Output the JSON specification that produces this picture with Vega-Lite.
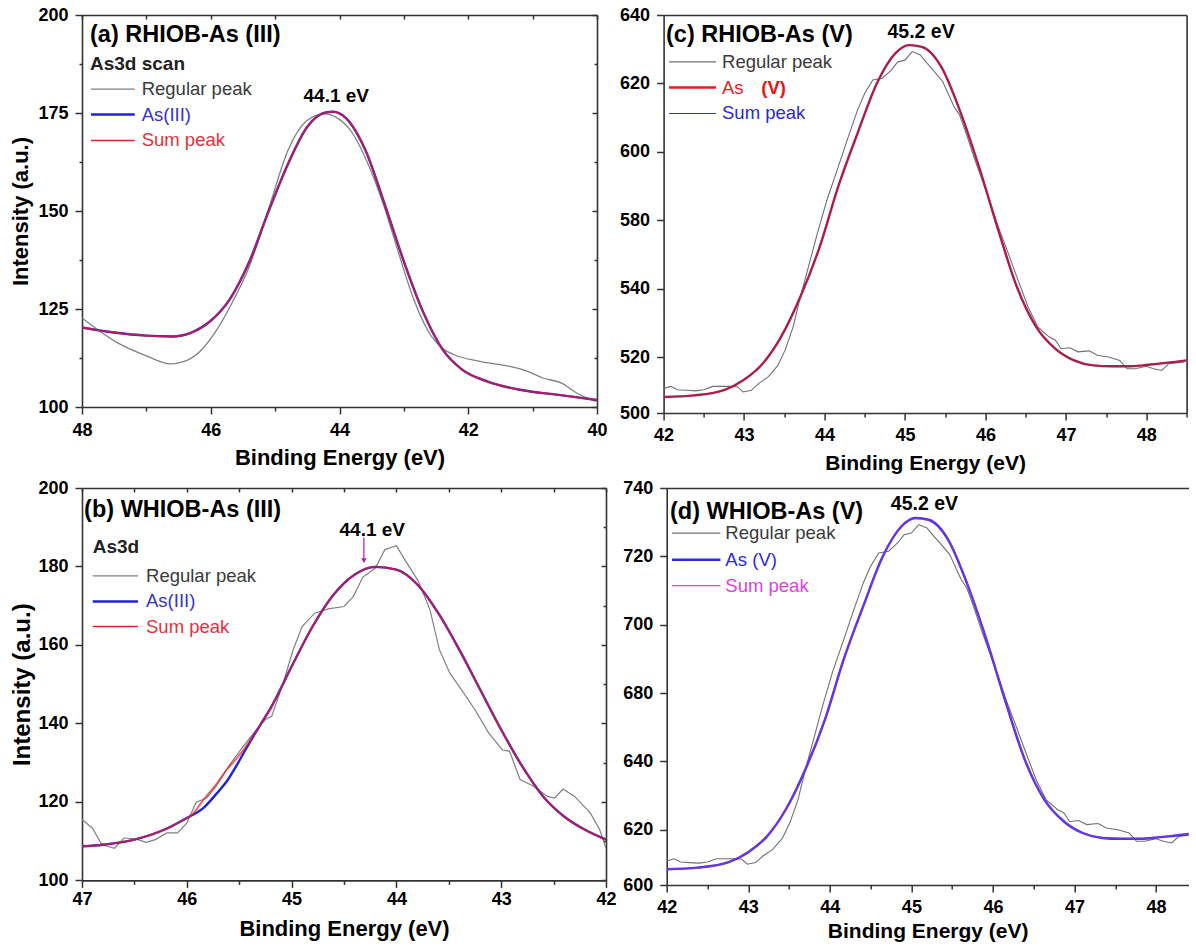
{
  "$schema": "https://vega.github.io/schema/vega-lite/v6.json",
  "background": "white",
  "padding": {"left": 9, "top": 6, "right": 0, "bottom": 8},
  "datasets": {
    "a": [
      {"energy": 48.00, "intensity": 122.7, "series": "Regular peak"},
      {"energy": 47.46, "intensity": 116.5, "series": "Regular peak"},
      {"energy": 46.99, "intensity": 113.0, "series": "Regular peak"},
      {"energy": 46.63, "intensity": 111.0, "series": "Regular peak"},
      {"energy": 46.40, "intensity": 111.7, "series": "Regular peak"},
      {"energy": 46.16, "intensity": 114.3, "series": "Regular peak"},
      {"energy": 45.93, "intensity": 119.1, "series": "Regular peak"},
      {"energy": 45.69, "intensity": 125.9, "series": "Regular peak"},
      {"energy": 45.39, "intensity": 136.3, "series": "Regular peak"},
      {"energy": 45.10, "intensity": 150.6, "series": "Regular peak"},
      {"energy": 44.80, "intensity": 165.5, "series": "Regular peak"},
      {"energy": 44.51, "intensity": 173.0, "series": "Regular peak"},
      {"energy": 44.24, "intensity": 174.8, "series": "Regular peak"},
      {"energy": 44.03, "intensity": 173.7, "series": "Regular peak"},
      {"energy": 43.80, "intensity": 169.9, "series": "Regular peak"},
      {"energy": 43.56, "intensity": 162.1, "series": "Regular peak"},
      {"energy": 43.32, "intensity": 151.8, "series": "Regular peak"},
      {"energy": 43.09, "intensity": 139.7, "series": "Regular peak"},
      {"energy": 42.85, "intensity": 127.6, "series": "Regular peak"},
      {"energy": 42.61, "intensity": 119.0, "series": "Regular peak"},
      {"energy": 42.38, "intensity": 114.7, "series": "Regular peak"},
      {"energy": 42.23, "intensity": 113.4, "series": "Regular peak"},
      {"energy": 41.84, "intensity": 111.7, "series": "Regular peak"},
      {"energy": 41.37, "intensity": 110.4, "series": "Regular peak"},
      {"energy": 41.08, "intensity": 109.1, "series": "Regular peak"},
      {"energy": 40.84, "intensity": 107.4, "series": "Regular peak"},
      {"energy": 40.55, "intensity": 106.1, "series": "Regular peak"},
      {"energy": 40.31, "intensity": 103.5, "series": "Regular peak"},
      {"energy": 40.02, "intensity": 101.4, "series": "Regular peak"},
      {"energy": 48.0, "intensity": 120.3, "series": "As(III)"},
      {"energy": 47.5, "intensity": 119.0, "series": "As(III)"},
      {"energy": 47.0, "intensity": 118.2, "series": "As(III)"},
      {"energy": 46.6, "intensity": 118.0, "series": "As(III)"},
      {"energy": 46.3, "intensity": 119.0, "series": "As(III)"},
      {"energy": 46.0, "intensity": 122.0, "series": "As(III)"},
      {"energy": 45.7, "intensity": 127.6, "series": "As(III)"},
      {"energy": 45.4, "intensity": 137.1, "series": "As(III)"},
      {"energy": 45.1, "intensity": 150.0, "series": "As(III)"},
      {"energy": 44.8, "intensity": 162.0, "series": "As(III)"},
      {"energy": 44.5, "intensity": 171.5, "series": "As(III)"},
      {"energy": 44.2, "intensity": 175.2, "series": "As(III)"},
      {"energy": 44.1, "intensity": 175.3, "series": "As(III)"},
      {"energy": 43.9, "intensity": 173.7, "series": "As(III)"},
      {"energy": 43.6, "intensity": 165.6, "series": "As(III)"},
      {"energy": 43.3, "intensity": 151.8, "series": "As(III)"},
      {"energy": 43.0, "intensity": 137.1, "series": "As(III)"},
      {"energy": 42.7, "intensity": 124.2, "series": "As(III)"},
      {"energy": 42.4, "intensity": 114.7, "series": "As(III)"},
      {"energy": 42.1, "intensity": 109.6, "series": "As(III)"},
      {"energy": 41.7, "intensity": 106.5, "series": "As(III)"},
      {"energy": 41.2, "intensity": 104.4, "series": "As(III)"},
      {"energy": 40.6, "intensity": 103.1, "series": "As(III)"},
      {"energy": 40.0, "intensity": 101.8, "series": "As(III)"},
      {"energy": 48.0, "intensity": 120.3, "series": "Sum peak"},
      {"energy": 47.5, "intensity": 119.0, "series": "Sum peak"},
      {"energy": 47.0, "intensity": 118.2, "series": "Sum peak"},
      {"energy": 46.6, "intensity": 118.0, "series": "Sum peak"},
      {"energy": 46.3, "intensity": 119.0, "series": "Sum peak"},
      {"energy": 46.0, "intensity": 122.0, "series": "Sum peak"},
      {"energy": 45.7, "intensity": 127.6, "series": "Sum peak"},
      {"energy": 45.4, "intensity": 137.1, "series": "Sum peak"},
      {"energy": 45.1, "intensity": 150.0, "series": "Sum peak"},
      {"energy": 44.8, "intensity": 162.0, "series": "Sum peak"},
      {"energy": 44.5, "intensity": 171.5, "series": "Sum peak"},
      {"energy": 44.2, "intensity": 175.2, "series": "Sum peak"},
      {"energy": 44.1, "intensity": 175.3, "series": "Sum peak"},
      {"energy": 43.9, "intensity": 173.7, "series": "Sum peak"},
      {"energy": 43.6, "intensity": 165.6, "series": "Sum peak"},
      {"energy": 43.3, "intensity": 151.8, "series": "Sum peak"},
      {"energy": 43.0, "intensity": 137.1, "series": "Sum peak"},
      {"energy": 42.7, "intensity": 124.2, "series": "Sum peak"},
      {"energy": 42.4, "intensity": 114.7, "series": "Sum peak"},
      {"energy": 42.1, "intensity": 109.6, "series": "Sum peak"},
      {"energy": 41.7, "intensity": 106.5, "series": "Sum peak"},
      {"energy": 41.2, "intensity": 104.4, "series": "Sum peak"},
      {"energy": 40.6, "intensity": 103.1, "series": "Sum peak"},
      {"energy": 40.0, "intensity": 101.8, "series": "Sum peak"}
    ],
    "b": [
      {"energy": 47.0, "intensity": 115.5, "series": "Regular peak"},
      {"energy": 46.9, "intensity": 113.3, "series": "Regular peak"},
      {"energy": 46.82, "intensity": 109.5, "series": "Regular peak"},
      {"energy": 46.76, "intensity": 108.7, "series": "Regular peak"},
      {"energy": 46.69, "intensity": 108.2, "series": "Regular peak"},
      {"energy": 46.60, "intensity": 110.8, "series": "Regular peak"},
      {"energy": 46.48, "intensity": 110.5, "series": "Regular peak"},
      {"energy": 46.39, "intensity": 109.7, "series": "Regular peak"},
      {"energy": 46.30, "intensity": 110.4, "series": "Regular peak"},
      {"energy": 46.19, "intensity": 112.1, "series": "Regular peak"},
      {"energy": 46.09, "intensity": 112.1, "series": "Regular peak"},
      {"energy": 46.0, "intensity": 114.6, "series": "Regular peak"},
      {"energy": 45.91, "intensity": 119.9, "series": "Regular peak"},
      {"energy": 45.81, "intensity": 121.0, "series": "Regular peak"},
      {"energy": 45.72, "intensity": 124.0, "series": "Regular peak"},
      {"energy": 45.59, "intensity": 129.5, "series": "Regular peak"},
      {"energy": 45.46, "intensity": 134.2, "series": "Regular peak"},
      {"energy": 45.36, "intensity": 137.6, "series": "Regular peak"},
      {"energy": 45.25, "intensity": 141.0, "series": "Regular peak"},
      {"energy": 45.19, "intensity": 141.8, "series": "Regular peak"},
      {"energy": 45.08, "intensity": 150.3, "series": "Regular peak"},
      {"energy": 44.99, "intensity": 158.4, "series": "Regular peak"},
      {"energy": 44.90, "intensity": 164.7, "series": "Regular peak"},
      {"energy": 44.78, "intensity": 168.1, "series": "Regular peak"},
      {"energy": 44.65, "intensity": 169.2, "series": "Regular peak"},
      {"energy": 44.50, "intensity": 169.8, "series": "Regular peak"},
      {"energy": 44.41, "intensity": 172.4, "series": "Regular peak"},
      {"energy": 44.32, "intensity": 177.3, "series": "Regular peak"},
      {"energy": 44.20, "intensity": 179.6, "series": "Regular peak"},
      {"energy": 44.11, "intensity": 184.3, "series": "Regular peak"},
      {"energy": 44.0, "intensity": 185.3, "series": "Regular peak"},
      {"energy": 43.91, "intensity": 181.3, "series": "Regular peak"},
      {"energy": 43.79, "intensity": 176.2, "series": "Regular peak"},
      {"energy": 43.68, "intensity": 169.0, "series": "Regular peak"},
      {"energy": 43.59, "intensity": 158.8, "series": "Regular peak"},
      {"energy": 43.49, "intensity": 152.8, "series": "Regular peak"},
      {"energy": 43.38, "intensity": 148.6, "series": "Regular peak"},
      {"energy": 43.25, "intensity": 143.5, "series": "Regular peak"},
      {"energy": 43.12, "intensity": 137.6, "series": "Regular peak"},
      {"energy": 42.99, "intensity": 133.3, "series": "Regular peak"},
      {"energy": 42.92, "intensity": 132.9, "series": "Regular peak"},
      {"energy": 42.82, "intensity": 125.7, "series": "Regular peak"},
      {"energy": 42.69, "intensity": 124.0, "series": "Regular peak"},
      {"energy": 42.56, "intensity": 121.4, "series": "Regular peak"},
      {"energy": 42.49, "intensity": 121.0, "series": "Regular peak"},
      {"energy": 42.41, "intensity": 123.3, "series": "Regular peak"},
      {"energy": 42.30, "intensity": 121.4, "series": "Regular peak"},
      {"energy": 42.15, "intensity": 117.2, "series": "Regular peak"},
      {"energy": 42.06, "intensity": 112.9, "series": "Regular peak"},
      {"energy": 42.0, "intensity": 108.2, "series": "Regular peak"},
      {"energy": 47.0, "intensity": 108.7, "series": "As(III)"},
      {"energy": 46.8, "intensity": 109.1, "series": "As(III)"},
      {"energy": 46.5, "intensity": 110.4, "series": "As(III)"},
      {"energy": 46.2, "intensity": 113.1, "series": "As(III)"},
      {"energy": 46.0, "intensity": 115.9, "series": "As(III)"},
      {"energy": 45.84, "intensity": 118.5, "series": "As(III)"},
      {"energy": 45.71, "intensity": 122.3, "series": "As(III)"},
      {"energy": 45.62, "intensity": 125.2, "series": "As(III)"},
      {"energy": 45.52, "intensity": 129.5, "series": "As(III)"},
      {"energy": 45.44, "intensity": 133.3, "series": "As(III)"},
      {"energy": 45.3, "intensity": 139.6, "series": "As(III)"},
      {"energy": 45.2, "intensity": 143.9, "series": "As(III)"},
      {"energy": 45.0, "intensity": 154.5, "series": "As(III)"},
      {"energy": 44.8, "intensity": 164.7, "series": "As(III)"},
      {"energy": 44.6, "intensity": 172.8, "series": "As(III)"},
      {"energy": 44.4, "intensity": 177.9, "series": "As(III)"},
      {"energy": 44.2, "intensity": 179.9, "series": "As(III)"},
      {"energy": 44.0, "intensity": 179.2, "series": "As(III)"},
      {"energy": 43.8, "intensity": 175.4, "series": "As(III)"},
      {"energy": 43.6, "intensity": 168.1, "series": "As(III)"},
      {"energy": 43.4, "intensity": 158.8, "series": "As(III)"},
      {"energy": 43.2, "intensity": 148.6, "series": "As(III)"},
      {"energy": 43.0, "intensity": 138.4, "series": "As(III)"},
      {"energy": 42.8, "intensity": 129.1, "series": "As(III)"},
      {"energy": 42.6, "intensity": 121.4, "series": "As(III)"},
      {"energy": 42.4, "intensity": 116.3, "series": "As(III)"},
      {"energy": 42.2, "intensity": 112.9, "series": "As(III)"},
      {"energy": 42.0, "intensity": 110.4, "series": "As(III)"},
      {"energy": 47.0, "intensity": 108.7, "series": "Sum peak"},
      {"energy": 46.8, "intensity": 109.1, "series": "Sum peak"},
      {"energy": 46.5, "intensity": 110.4, "series": "Sum peak"},
      {"energy": 46.2, "intensity": 113.1, "series": "Sum peak"},
      {"energy": 46.0, "intensity": 115.9, "series": "Sum peak"},
      {"energy": 45.96, "intensity": 116.5, "series": "Sum peak"},
      {"energy": 45.84, "intensity": 120.6, "series": "Sum peak"},
      {"energy": 45.71, "intensity": 124.8, "series": "Sum peak"},
      {"energy": 45.62, "intensity": 128.2, "series": "Sum peak"},
      {"energy": 45.52, "intensity": 131.2, "series": "Sum peak"},
      {"energy": 45.44, "intensity": 134.0, "series": "Sum peak"},
      {"energy": 45.3, "intensity": 139.6, "series": "Sum peak"},
      {"energy": 45.2, "intensity": 143.9, "series": "Sum peak"},
      {"energy": 45.0, "intensity": 154.5, "series": "Sum peak"},
      {"energy": 44.8, "intensity": 164.7, "series": "Sum peak"},
      {"energy": 44.6, "intensity": 172.8, "series": "Sum peak"},
      {"energy": 44.4, "intensity": 177.9, "series": "Sum peak"},
      {"energy": 44.2, "intensity": 179.9, "series": "Sum peak"},
      {"energy": 44.0, "intensity": 179.2, "series": "Sum peak"},
      {"energy": 43.8, "intensity": 175.4, "series": "Sum peak"},
      {"energy": 43.6, "intensity": 168.1, "series": "Sum peak"},
      {"energy": 43.4, "intensity": 158.8, "series": "Sum peak"},
      {"energy": 43.2, "intensity": 148.6, "series": "Sum peak"},
      {"energy": 43.0, "intensity": 138.4, "series": "Sum peak"},
      {"energy": 42.8, "intensity": 129.1, "series": "Sum peak"},
      {"energy": 42.6, "intensity": 121.4, "series": "Sum peak"},
      {"energy": 42.4, "intensity": 116.3, "series": "Sum peak"},
      {"energy": 42.2, "intensity": 112.9, "series": "Sum peak"},
      {"energy": 42.0, "intensity": 110.4, "series": "Sum peak"}
    ],
    "c": [
      {"energy": 42.00, "intensity": 508.7, "series": "Regular peak"},
      {"energy": 42.09, "intensity": 509.5, "series": "Regular peak"},
      {"energy": 42.17, "intensity": 508.3, "series": "Regular peak"},
      {"energy": 42.28, "intensity": 508.1, "series": "Regular peak"},
      {"energy": 42.40, "intensity": 507.9, "series": "Regular peak"},
      {"energy": 42.50, "intensity": 508.3, "series": "Regular peak"},
      {"energy": 42.61, "intensity": 509.5, "series": "Regular peak"},
      {"energy": 42.76, "intensity": 509.5, "series": "Regular peak"},
      {"energy": 42.87, "intensity": 509.5, "series": "Regular peak"},
      {"energy": 42.92, "intensity": 509.3, "series": "Regular peak"},
      {"energy": 42.99, "intensity": 507.5, "series": "Regular peak"},
      {"energy": 43.09, "intensity": 508.1, "series": "Regular peak"},
      {"energy": 43.18, "intensity": 510.5, "series": "Regular peak"},
      {"energy": 43.30, "intensity": 512.9, "series": "Regular peak"},
      {"energy": 43.42, "intensity": 517.0, "series": "Regular peak"},
      {"energy": 43.51, "intensity": 522.0, "series": "Regular peak"},
      {"energy": 43.61, "intensity": 528.8, "series": "Regular peak"},
      {"energy": 43.70, "intensity": 537.6, "series": "Regular peak"},
      {"energy": 43.80, "intensity": 552.7, "series": "Regular peak"},
      {"energy": 43.91, "intensity": 572.2, "series": "Regular peak"},
      {"energy": 44.03, "intensity": 585.9, "series": "Regular peak"},
      {"energy": 44.17, "intensity": 595.6, "series": "Regular peak"},
      {"energy": 44.31, "intensity": 605.4, "series": "Regular peak"},
      {"energy": 44.41, "intensity": 612.2, "series": "Regular peak"},
      {"energy": 44.50, "intensity": 617.1, "series": "Regular peak"},
      {"energy": 44.60, "intensity": 621.0, "series": "Regular peak"},
      {"energy": 44.72, "intensity": 621.5, "series": "Regular peak"},
      {"energy": 44.83, "intensity": 623.9, "series": "Regular peak"},
      {"energy": 44.91, "intensity": 626.3, "series": "Regular peak"},
      {"energy": 45.00, "intensity": 626.8, "series": "Regular peak"},
      {"energy": 45.09, "intensity": 629.3, "series": "Regular peak"},
      {"energy": 45.19, "intensity": 628.3, "series": "Regular peak"},
      {"energy": 45.26, "intensity": 626.3, "series": "Regular peak"},
      {"energy": 45.35, "intensity": 623.9, "series": "Regular peak"},
      {"energy": 45.47, "intensity": 620.5, "series": "Regular peak"},
      {"energy": 45.61, "intensity": 613.2, "series": "Regular peak"},
      {"energy": 45.68, "intensity": 610.7, "series": "Regular peak"},
      {"energy": 45.76, "intensity": 605.4, "series": "Regular peak"},
      {"energy": 45.87, "intensity": 597.6, "series": "Regular peak"},
      {"energy": 46.02, "intensity": 587.8, "series": "Regular peak"},
      {"energy": 46.16, "intensity": 576.1, "series": "Regular peak"},
      {"energy": 46.30, "intensity": 558.5, "series": "Regular peak"},
      {"energy": 46.39, "intensity": 546.8, "series": "Regular peak"},
      {"energy": 46.53, "intensity": 534.6, "series": "Regular peak"},
      {"energy": 46.65, "intensity": 528.8, "series": "Regular peak"},
      {"energy": 46.79, "intensity": 525.9, "series": "Regular peak"},
      {"energy": 46.87, "intensity": 524.9, "series": "Regular peak"},
      {"energy": 46.94, "intensity": 522.4, "series": "Regular peak"},
      {"energy": 47.05, "intensity": 522.7, "series": "Regular peak"},
      {"energy": 47.15, "intensity": 521.5, "series": "Regular peak"},
      {"energy": 47.29, "intensity": 521.8, "series": "Regular peak"},
      {"energy": 47.39, "intensity": 520.5, "series": "Regular peak"},
      {"energy": 47.53, "intensity": 520.0, "series": "Regular peak"},
      {"energy": 47.67, "intensity": 518.8, "series": "Regular peak"},
      {"energy": 47.76, "intensity": 515.8, "series": "Regular peak"},
      {"energy": 47.86, "intensity": 515.8, "series": "Regular peak"},
      {"energy": 48.00, "intensity": 516.7, "series": "Regular peak"},
      {"energy": 48.09, "intensity": 515.8, "series": "Regular peak"},
      {"energy": 48.19, "intensity": 515.2, "series": "Regular peak"},
      {"energy": 48.28, "intensity": 517.6, "series": "Regular peak"},
      {"energy": 48.38, "intensity": 517.9, "series": "Regular peak"},
      {"energy": 48.47, "intensity": 518.2, "series": "Regular peak"},
      {"energy": 42.00, "intensity": 505.7, "series": "As (V)"},
      {"energy": 42.38, "intensity": 506.3, "series": "As (V)"},
      {"energy": 42.76, "intensity": 508.3, "series": "As (V)"},
      {"energy": 42.99, "intensity": 511.7, "series": "As (V)"},
      {"energy": 43.23, "intensity": 517.6, "series": "As (V)"},
      {"energy": 43.46, "intensity": 525.9, "series": "As (V)"},
      {"energy": 43.70, "intensity": 537.6, "series": "As (V)"},
      {"energy": 43.94, "intensity": 564.4, "series": "As (V)"},
      {"energy": 44.17, "intensity": 589.8, "series": "As (V)"},
      {"energy": 44.41, "intensity": 605.4, "series": "As (V)"},
      {"energy": 44.65, "intensity": 620.0, "series": "As (V)"},
      {"energy": 44.88, "intensity": 628.8, "series": "As (V)"},
      {"energy": 45.05, "intensity": 631.2, "series": "As (V)"},
      {"energy": 45.21, "intensity": 630.7, "series": "As (V)"},
      {"energy": 45.45, "intensity": 624.9, "series": "As (V)"},
      {"energy": 45.68, "intensity": 612.2, "series": "As (V)"},
      {"energy": 45.92, "intensity": 595.6, "series": "As (V)"},
      {"energy": 46.16, "intensity": 574.1, "series": "As (V)"},
      {"energy": 46.39, "intensity": 541.0, "series": "As (V)"},
      {"energy": 46.63, "intensity": 528.8, "series": "As (V)"},
      {"energy": 46.87, "intensity": 522.4, "series": "As (V)"},
      {"energy": 47.10, "intensity": 518.8, "series": "As (V)"},
      {"energy": 47.34, "intensity": 517.0, "series": "As (V)"},
      {"energy": 47.57, "intensity": 516.7, "series": "As (V)"},
      {"energy": 47.81, "intensity": 516.7, "series": "As (V)"},
      {"energy": 48.05, "intensity": 517.3, "series": "As (V)"},
      {"energy": 48.50, "intensity": 518.8, "series": "As (V)"},
      {"energy": 42.00, "intensity": 505.7, "series": "Sum peak"},
      {"energy": 42.38, "intensity": 506.3, "series": "Sum peak"},
      {"energy": 42.76, "intensity": 508.3, "series": "Sum peak"},
      {"energy": 42.99, "intensity": 511.7, "series": "Sum peak"},
      {"energy": 43.23, "intensity": 517.6, "series": "Sum peak"},
      {"energy": 43.46, "intensity": 525.9, "series": "Sum peak"},
      {"energy": 43.70, "intensity": 537.6, "series": "Sum peak"},
      {"energy": 43.94, "intensity": 564.4, "series": "Sum peak"},
      {"energy": 44.17, "intensity": 589.8, "series": "Sum peak"},
      {"energy": 44.41, "intensity": 605.4, "series": "Sum peak"},
      {"energy": 44.65, "intensity": 620.0, "series": "Sum peak"},
      {"energy": 44.88, "intensity": 628.8, "series": "Sum peak"},
      {"energy": 45.05, "intensity": 631.2, "series": "Sum peak"},
      {"energy": 45.21, "intensity": 630.7, "series": "Sum peak"},
      {"energy": 45.45, "intensity": 624.9, "series": "Sum peak"},
      {"energy": 45.68, "intensity": 612.2, "series": "Sum peak"},
      {"energy": 45.92, "intensity": 595.6, "series": "Sum peak"},
      {"energy": 46.16, "intensity": 574.1, "series": "Sum peak"},
      {"energy": 46.39, "intensity": 541.0, "series": "Sum peak"},
      {"energy": 46.63, "intensity": 528.8, "series": "Sum peak"},
      {"energy": 46.87, "intensity": 522.4, "series": "Sum peak"},
      {"energy": 47.10, "intensity": 518.8, "series": "Sum peak"},
      {"energy": 47.34, "intensity": 517.0, "series": "Sum peak"},
      {"energy": 47.57, "intensity": 516.7, "series": "Sum peak"},
      {"energy": 47.81, "intensity": 516.7, "series": "Sum peak"},
      {"energy": 48.05, "intensity": 517.3, "series": "Sum peak"},
      {"energy": 48.50, "intensity": 518.8, "series": "Sum peak"}
    ],
    "d": [
      {"energy": 42.00, "intensity": 608.7, "series": "Regular peak"},
      {"energy": 42.09, "intensity": 609.5, "series": "Regular peak"},
      {"energy": 42.17, "intensity": 608.3, "series": "Regular peak"},
      {"energy": 42.28, "intensity": 608.1, "series": "Regular peak"},
      {"energy": 42.40, "intensity": 607.9, "series": "Regular peak"},
      {"energy": 42.50, "intensity": 608.3, "series": "Regular peak"},
      {"energy": 42.61, "intensity": 609.5, "series": "Regular peak"},
      {"energy": 42.76, "intensity": 609.5, "series": "Regular peak"},
      {"energy": 42.87, "intensity": 609.5, "series": "Regular peak"},
      {"energy": 42.92, "intensity": 609.3, "series": "Regular peak"},
      {"energy": 42.99, "intensity": 607.5, "series": "Regular peak"},
      {"energy": 43.09, "intensity": 608.1, "series": "Regular peak"},
      {"energy": 43.18, "intensity": 610.5, "series": "Regular peak"},
      {"energy": 43.30, "intensity": 612.9, "series": "Regular peak"},
      {"energy": 43.42, "intensity": 617.0, "series": "Regular peak"},
      {"energy": 43.51, "intensity": 622.0, "series": "Regular peak"},
      {"energy": 43.61, "intensity": 628.8, "series": "Regular peak"},
      {"energy": 43.70, "intensity": 637.6, "series": "Regular peak"},
      {"energy": 43.80, "intensity": 652.7, "series": "Regular peak"},
      {"energy": 43.91, "intensity": 672.2, "series": "Regular peak"},
      {"energy": 44.03, "intensity": 685.9, "series": "Regular peak"},
      {"energy": 44.17, "intensity": 695.6, "series": "Regular peak"},
      {"energy": 44.31, "intensity": 705.4, "series": "Regular peak"},
      {"energy": 44.41, "intensity": 712.2, "series": "Regular peak"},
      {"energy": 44.50, "intensity": 717.1, "series": "Regular peak"},
      {"energy": 44.60, "intensity": 721.0, "series": "Regular peak"},
      {"energy": 44.72, "intensity": 721.5, "series": "Regular peak"},
      {"energy": 44.83, "intensity": 723.9, "series": "Regular peak"},
      {"energy": 44.91, "intensity": 726.3, "series": "Regular peak"},
      {"energy": 45.00, "intensity": 726.8, "series": "Regular peak"},
      {"energy": 45.09, "intensity": 729.3, "series": "Regular peak"},
      {"energy": 45.19, "intensity": 728.3, "series": "Regular peak"},
      {"energy": 45.26, "intensity": 726.3, "series": "Regular peak"},
      {"energy": 45.35, "intensity": 723.9, "series": "Regular peak"},
      {"energy": 45.47, "intensity": 720.5, "series": "Regular peak"},
      {"energy": 45.61, "intensity": 713.2, "series": "Regular peak"},
      {"energy": 45.68, "intensity": 710.7, "series": "Regular peak"},
      {"energy": 45.76, "intensity": 705.4, "series": "Regular peak"},
      {"energy": 45.87, "intensity": 697.6, "series": "Regular peak"},
      {"energy": 46.02, "intensity": 687.8, "series": "Regular peak"},
      {"energy": 46.16, "intensity": 676.1, "series": "Regular peak"},
      {"energy": 46.30, "intensity": 658.5, "series": "Regular peak"},
      {"energy": 46.39, "intensity": 646.8, "series": "Regular peak"},
      {"energy": 46.53, "intensity": 634.6, "series": "Regular peak"},
      {"energy": 46.65, "intensity": 628.8, "series": "Regular peak"},
      {"energy": 46.79, "intensity": 625.9, "series": "Regular peak"},
      {"energy": 46.87, "intensity": 624.9, "series": "Regular peak"},
      {"energy": 46.94, "intensity": 622.4, "series": "Regular peak"},
      {"energy": 47.05, "intensity": 622.7, "series": "Regular peak"},
      {"energy": 47.15, "intensity": 621.5, "series": "Regular peak"},
      {"energy": 47.29, "intensity": 621.8, "series": "Regular peak"},
      {"energy": 47.39, "intensity": 620.5, "series": "Regular peak"},
      {"energy": 47.53, "intensity": 620.0, "series": "Regular peak"},
      {"energy": 47.67, "intensity": 618.8, "series": "Regular peak"},
      {"energy": 47.76, "intensity": 615.8, "series": "Regular peak"},
      {"energy": 47.86, "intensity": 615.8, "series": "Regular peak"},
      {"energy": 48.00, "intensity": 616.7, "series": "Regular peak"},
      {"energy": 48.09, "intensity": 615.8, "series": "Regular peak"},
      {"energy": 48.19, "intensity": 615.2, "series": "Regular peak"},
      {"energy": 48.28, "intensity": 617.6, "series": "Regular peak"},
      {"energy": 48.38, "intensity": 617.9, "series": "Regular peak"},
      {"energy": 48.47, "intensity": 618.2, "series": "Regular peak"},
      {"energy": 42.00, "intensity": 605.7, "series": "As (V)"},
      {"energy": 42.38, "intensity": 606.3, "series": "As (V)"},
      {"energy": 42.76, "intensity": 608.3, "series": "As (V)"},
      {"energy": 42.99, "intensity": 611.7, "series": "As (V)"},
      {"energy": 43.23, "intensity": 617.6, "series": "As (V)"},
      {"energy": 43.46, "intensity": 625.9, "series": "As (V)"},
      {"energy": 43.70, "intensity": 637.6, "series": "As (V)"},
      {"energy": 43.94, "intensity": 664.4, "series": "As (V)"},
      {"energy": 44.17, "intensity": 689.8, "series": "As (V)"},
      {"energy": 44.41, "intensity": 705.4, "series": "As (V)"},
      {"energy": 44.65, "intensity": 720.0, "series": "As (V)"},
      {"energy": 44.88, "intensity": 728.8, "series": "As (V)"},
      {"energy": 45.05, "intensity": 731.2, "series": "As (V)"},
      {"energy": 45.21, "intensity": 730.7, "series": "As (V)"},
      {"energy": 45.45, "intensity": 724.9, "series": "As (V)"},
      {"energy": 45.68, "intensity": 712.2, "series": "As (V)"},
      {"energy": 45.92, "intensity": 695.6, "series": "As (V)"},
      {"energy": 46.16, "intensity": 674.1, "series": "As (V)"},
      {"energy": 46.39, "intensity": 641.0, "series": "As (V)"},
      {"energy": 46.63, "intensity": 628.8, "series": "As (V)"},
      {"energy": 46.87, "intensity": 622.4, "series": "As (V)"},
      {"energy": 47.10, "intensity": 618.8, "series": "As (V)"},
      {"energy": 47.34, "intensity": 617.0, "series": "As (V)"},
      {"energy": 47.57, "intensity": 616.7, "series": "As (V)"},
      {"energy": 47.81, "intensity": 616.7, "series": "As (V)"},
      {"energy": 48.05, "intensity": 617.3, "series": "As (V)"},
      {"energy": 48.50, "intensity": 618.8, "series": "As (V)"},
      {"energy": 42.00, "intensity": 605.7, "series": "Sum peak"},
      {"energy": 42.38, "intensity": 606.3, "series": "Sum peak"},
      {"energy": 42.76, "intensity": 608.3, "series": "Sum peak"},
      {"energy": 42.99, "intensity": 611.7, "series": "Sum peak"},
      {"energy": 43.23, "intensity": 617.6, "series": "Sum peak"},
      {"energy": 43.46, "intensity": 625.9, "series": "Sum peak"},
      {"energy": 43.70, "intensity": 637.6, "series": "Sum peak"},
      {"energy": 43.94, "intensity": 664.4, "series": "Sum peak"},
      {"energy": 44.17, "intensity": 689.8, "series": "Sum peak"},
      {"energy": 44.41, "intensity": 705.4, "series": "Sum peak"},
      {"energy": 44.65, "intensity": 720.0, "series": "Sum peak"},
      {"energy": 44.88, "intensity": 728.8, "series": "Sum peak"},
      {"energy": 45.05, "intensity": 731.2, "series": "Sum peak"},
      {"energy": 45.21, "intensity": 730.7, "series": "Sum peak"},
      {"energy": 45.45, "intensity": 724.9, "series": "Sum peak"},
      {"energy": 45.68, "intensity": 712.2, "series": "Sum peak"},
      {"energy": 45.92, "intensity": 695.6, "series": "Sum peak"},
      {"energy": 46.16, "intensity": 674.1, "series": "Sum peak"},
      {"energy": 46.39, "intensity": 641.0, "series": "Sum peak"},
      {"energy": 46.63, "intensity": 628.8, "series": "Sum peak"},
      {"energy": 46.87, "intensity": 622.4, "series": "Sum peak"},
      {"energy": 47.10, "intensity": 618.8, "series": "Sum peak"},
      {"energy": 47.34, "intensity": 617.0, "series": "Sum peak"},
      {"energy": 47.57, "intensity": 616.7, "series": "Sum peak"},
      {"energy": 47.81, "intensity": 616.7, "series": "Sum peak"},
      {"energy": 48.05, "intensity": 617.3, "series": "Sum peak"},
      {"energy": 48.50, "intensity": 618.8, "series": "Sum peak"}
    ]
  },
  "spacing": 5,
  "bounds": "full",
  "resolve": {"scale": {"color": "independent"}},
  "vconcat": [
    {
      "spacing": 66.6,
      "bounds": "flush",
      "resolve": {"scale": {"color": "independent"}},
      "hconcat": [
        {
          "width": 515,
          "height": 392,
          "resolve": {"axis": {"x": "independent", "y": "independent"}},
          "layer": [
            {
              "layer": [
                {
                  "data": {"name": "a"},
                  "transform": [{"filter": "datum.series === 'Regular peak'"}],
                  "mark": {"type": "line", "strokeWidth": 1.3, "interpolate": "monotone", "clip": true},
                  "encoding": {
                    "x": {"field": "energy", "type": "quantitative",
                      "scale": {"domain": [40, 48], "reverse": true, "nice": false, "zero": false},
                      "axis": {"title": "Binding Energy (eV)", "format": ".0f", "values": [40, 41, 42, 43, 44, 45, 46, 47, 48],
                        "labelExpr": "datum.value % 2 === 0 ? datum.label : ''",
                        "tickSize": {"condition": {"test": "datum.value % 2 === 0", "value": 7}, "value": 4},
                        "labelPadding": 7.5, "titlePadding": 8, "titleFontSize": 22}},
                    "y": {"field": "intensity", "type": "quantitative",
                      "scale": {"domain": [100, 200], "nice": false, "zero": false},
                      "axis": {"title": "Intensity (a.u.)", "format": ".0f", "values": [100, 112.5, 125, 137.5, 150, 162.5, 175, 187.5, 200],
                        "labelExpr": "datum.value % 25 === 0 ? datum.label : ''",
                        "tickSize": {"condition": {"test": "datum.value % 25 === 0", "value": 7}, "value": 3},
                        "labelPadding": 7, "titlePadding": 5, "titleFontSize": 22}},
                    "color": {"field": "series", "type": "nominal",
                      "scale": {"domain": ["Regular peak", "As(III)", "Sum peak"], "range": ["#808080", "#2020e0", "#e8202c"]},
                      "legend": null}
                  }
                },
                {
                  "data": {"name": "a"},
                  "transform": [{"filter": "datum.series === 'As(III)'"}],
                  "mark": {"type": "line", "strokeWidth": 2.4, "interpolate": "monotone", "clip": true},
                  "encoding": {
                    "x": {"field": "energy", "type": "quantitative"},
                    "y": {"field": "intensity", "type": "quantitative"},
                    "color": {"field": "series", "type": "nominal", "legend": null}
                  }
                },
                {
                  "data": {"name": "a"},
                  "transform": [{"filter": "datum.series === 'Sum peak'"}],
                  "mark": {"type": "line", "strokeWidth": 2.0, "opacity": 0.7, "interpolate": "monotone", "clip": true},
                  "encoding": {
                    "x": {"field": "energy", "type": "quantitative"},
                    "y": {"field": "intensity", "type": "quantitative"},
                    "color": {"field": "series", "type": "nominal", "legend": null}
                  }
                },
                {
                  "data": {"values": [{"t": "(a) RHIOB-As (III)"}]},
                  "mark": {"type": "text", "align": "left", "baseline": "middle", "fontSize": 23.5, "fontWeight": "bold", "color": "#000000"},
                  "encoding": {"x": {"datum": 47.876}, "y": {"datum": 194.8}, "text": {"field": "t"}}
                },
                {
                  "data": {"values": [{"t": "44.1 eV"}]},
                  "mark": {"type": "text", "align": "center", "baseline": "middle", "fontSize": 19, "fontWeight": "bold", "color": "#000000"},
                  "encoding": {"x": {"datum": 44.05}, "y": {"datum": 179.3}, "text": {"field": "t"}}
                },
                {
                  "data": {"values": [{"t": "As3d scan"}]},
                  "mark": {"type": "text", "align": "left", "baseline": "middle", "fontSize": 19, "fontWeight": "bold", "color": "#222222"},
                  "encoding": {"x": {"datum": 47.876}, "y": {"datum": 187.6}, "text": {"field": "t"}}
                },
                {
                  "data": {"values": [{"t": "Regular peak"}]},
                  "mark": {"type": "rule", "color": "#808080", "strokeWidth": 1.4},
                  "encoding": {"x": {"datum": 47.861}, "x2": {"datum": 47.181}, "y": {"datum": 181.1}}
                },
                {
                  "data": {"values": [{"t": "Regular peak"}]},
                  "mark": {"type": "text", "align": "left", "baseline": "middle", "fontSize": 18.5, "color": "#3a3a3a"},
                  "encoding": {"x": {"datum": 47.073}, "y": {"datum": 181.1}, "text": {"field": "t"}}
                },
                {
                  "data": {"values": [{"t": "As(III)"}]},
                  "mark": {"type": "rule", "color": "#2020e0", "strokeWidth": 2.5},
                  "encoding": {"x": {"datum": 47.861}, "x2": {"datum": 47.181}, "y": {"datum": 174.6}}
                },
                {
                  "data": {"values": [{"t": "As(III)"}]},
                  "mark": {"type": "text", "align": "left", "baseline": "middle", "fontSize": 18.5, "color": "#3333cc"},
                  "encoding": {"x": {"datum": 47.073}, "y": {"datum": 174.6}, "text": {"field": "t"}}
                },
                {
                  "data": {"values": [{"t": "Sum peak"}]},
                  "mark": {"type": "rule", "color": "#e8202c", "strokeWidth": 1.4},
                  "encoding": {"x": {"datum": 47.861}, "x2": {"datum": 47.181}, "y": {"datum": 168.0}}
                },
                {
                  "data": {"values": [{"t": "Sum peak"}]},
                  "mark": {"type": "text", "align": "left", "baseline": "middle", "fontSize": 18.5, "color": "#e8303a"},
                  "encoding": {"x": {"datum": 47.073}, "y": {"datum": 168.0}, "text": {"field": "t"}}
                }
              ]
            },
            {
              "data": {"name": "a"},
              "mark": {"type": "point", "opacity": 0, "clip": true},
              "encoding": {
                "x": {"field": "energy", "type": "quantitative",
                  "axis": {"orient": "top", "title": null, "labels": false, "values": [40, 41, 42, 43, 44, 45, 46, 47, 48], "tickSize": -4}},
                "y": {"field": "intensity", "type": "quantitative",
                  "axis": {"orient": "right", "title": null, "labels": false, "values": [100, 112.5, 125, 137.5, 150, 162.5, 175, 187.5, 200],
                    "tickSize": {"condition": {"test": "datum.value % 25 === 0", "value": -5}, "value": -3}}}
              }
            }
          ]
        },
        {
          "width": 523,
          "height": 398,
          "resolve": {"axis": {"x": "independent", "y": "independent"}},
          "layer": [
            {
              "layer": [
                {
                  "data": {"name": "c"},
                  "transform": [{"filter": "datum.series === 'Regular peak'"}],
                  "mark": {"type": "line", "strokeWidth": 1.1, "clip": true},
                  "encoding": {
                    "x": {"field": "energy", "type": "quantitative",
                      "scale": {"domain": [42, 48.5], "nice": false, "zero": false},
                      "axis": {"title": "Binding Energy (eV)", "format": ".0f", "values": [42, 42.5, 43, 43.5, 44, 44.5, 45, 45.5, 46, 46.5, 47, 47.5, 48, 48.5],
                        "labelExpr": "datum.value % 1 === 0 ? datum.label : ''",
                        "tickSize": {"condition": {"test": "datum.value % 1 === 0", "value": 7}, "value": 4},
                        "labelPadding": 6.5, "titlePadding": 8, "titleFontSize": 21}},
                    "y": {"field": "intensity", "type": "quantitative",
                      "scale": {"domain": [500, 520, 540, 580, 600, 620, 640], "range": [398, 342, 273.5, 205.2, 136.8, 68.4, 0], "nice": false, "zero": false},
                      "axis": {"title": null, "format": ".0f", "values": [500, 507.5, 520, 530, 540, 560, 580, 590, 600, 610, 620, 630, 640],
                        "labelExpr": "indexof([500, 520, 540, 580, 600, 620, 640], datum.value) >= 0 ? datum.label : ''",
                        "tickSize": {"condition": {"test": "indexof([500, 520, 540, 580, 600, 620, 640], datum.value) >= 0", "value": 7}, "value": 3},
                        "labelPadding": 7}},
                    "color": {"field": "series", "type": "nominal",
                      "scale": {"domain": ["Regular peak", "As (V)", "Sum peak"], "range": ["#707070", "#e02020", "#2020d0"]},
                      "legend": null}
                  }
                },
                {
                  "data": {"name": "c"},
                  "transform": [{"filter": "datum.series === 'As (V)'"}],
                  "mark": {"type": "line", "strokeWidth": 2.4, "interpolate": "monotone", "clip": true},
                  "encoding": {
                    "x": {"field": "energy", "type": "quantitative"},
                    "y": {"field": "intensity", "type": "quantitative"},
                    "color": {"field": "series", "type": "nominal", "legend": null}
                  }
                },
                {
                  "data": {"name": "c"},
                  "transform": [{"filter": "datum.series === 'Sum peak'"}],
                  "mark": {"type": "line", "strokeWidth": 1.8, "opacity": 0.35, "interpolate": "monotone", "clip": true},
                  "encoding": {
                    "x": {"field": "energy", "type": "quantitative"},
                    "y": {"field": "intensity", "type": "quantitative"},
                    "color": {"field": "series", "type": "nominal", "legend": null}
                  }
                },
                {
                  "data": {"values": [{"t": "(c) RHIOB-As (V)"}]},
                  "mark": {"type": "text", "align": "left", "baseline": "middle", "fontSize": 23.5, "fontWeight": "bold", "color": "#000000"},
                  "encoding": {"x": {"datum": 42.03}, "y": {"datum": 634.1}, "text": {"field": "t"}}
                },
                {
                  "data": {"values": [{"t": "45.2 eV"}]},
                  "mark": {"type": "text", "align": "center", "baseline": "middle", "fontSize": 19.5, "fontWeight": "bold", "color": "#000000"},
                  "encoding": {"x": {"datum": 45.2}, "y": {"datum": 635.0}, "text": {"field": "t"}}
                },
                {
                  "data": {"values": [{"t": "Regular peak"}]},
                  "mark": {"type": "rule", "color": "#707070", "strokeWidth": 1.2},
                  "encoding": {"x": {"datum": 42.067}, "x2": {"datum": 42.652}, "y": {"datum": 626.3}}
                },
                {
                  "data": {"values": [{"t": "Regular peak"}]},
                  "mark": {"type": "text", "align": "left", "baseline": "middle", "fontSize": 18.5, "color": "#3a3a3a"},
                  "encoding": {"x": {"datum": 42.726}, "y": {"datum": 626.3}, "text": {"field": "t"}}
                },
                {
                  "data": {"values": [{"t": "As (V)"}]},
                  "mark": {"type": "rule", "color": "#e02020", "strokeWidth": 2.5},
                  "encoding": {"x": {"datum": 42.067}, "x2": {"datum": 42.652}, "y": {"datum": 618.8}}
                },
                {
                  "data": {"values": [{"t": "As"}]},
                  "mark": {"type": "text", "align": "left", "baseline": "middle", "fontSize": 18.5, "color": "#e82020"},
                  "encoding": {"x": {"datum": 42.726}, "y": {"datum": 618.8}, "text": {"field": "t"}}
                },
                {
                  "data": {"values": [{"t": "(V)"}]},
                  "mark": {"type": "text", "align": "left", "baseline": "middle", "fontSize": 18.5, "fontWeight": "bold", "color": "#f01010"},
                  "encoding": {"x": {"datum": 43.214}, "y": {"datum": 618.8}, "text": {"field": "t"}}
                },
                {
                  "data": {"values": [{"t": "Sum peak"}]},
                  "mark": {"type": "rule", "color": "#3030d8", "strokeWidth": 1.1},
                  "encoding": {"x": {"datum": 42.067}, "x2": {"datum": 42.652}, "y": {"datum": 611.2}}
                },
                {
                  "data": {"values": [{"t": "Sum peak"}]},
                  "mark": {"type": "text", "align": "left", "baseline": "middle", "fontSize": 18.5, "color": "#2a2ad0"},
                  "encoding": {"x": {"datum": 42.726}, "y": {"datum": 611.2}, "text": {"field": "t"}}
                }
              ]
            },
            {
              "data": {"name": "c"},
              "mark": {"type": "point", "opacity": 0, "clip": true},
              "encoding": {
                "x": {"field": "energy", "type": "quantitative",
                  "axis": {"orient": "top", "title": null, "labels": false, "ticks": false}},
                "y": {"field": "intensity", "type": "quantitative",
                  "axis": {"orient": "right", "title": null, "labels": false, "ticks": false}}
              }
            }
          ]
        }
      ]
    },
    {
      "spacing": 60.7,
      "bounds": "flush",
      "resolve": {"scale": {"color": "independent"}},
      "hconcat": [
        {
          "width": 524,
          "height": 392.4,
          "resolve": {"axis": {"x": "independent", "y": "independent"}},
          "layer": [
            {
              "layer": [
                {
                  "data": {"name": "b"},
                  "transform": [{"filter": "datum.series === 'Regular peak'"}],
                  "mark": {"type": "line", "strokeWidth": 1.2, "clip": true},
                  "encoding": {
                    "x": {"field": "energy", "type": "quantitative",
                      "scale": {"domain": [42, 47], "reverse": true, "nice": false, "zero": false},
                      "axis": {"title": "Binding Energy (eV)", "format": ".0f", "values": [42, 42.5, 43, 43.5, 44, 44.5, 45, 45.5, 46, 46.5, 47],
                        "labelExpr": "datum.value % 1 === 0 ? datum.label : ''",
                        "tickSize": {"condition": {"test": "datum.value % 1 === 0", "value": 7}, "value": 4},
                        "labelPadding": 3.5, "titlePadding": 10, "titleFontSize": 22}},
                    "y": {"field": "intensity", "type": "quantitative",
                      "scale": {"domain": [100, 200], "nice": false, "zero": false},
                      "axis": {"title": "Intensity (a.u.)", "format": ".0f", "values": [100, 110, 120, 130, 140, 150, 160, 170, 180, 190, 200],
                        "labelExpr": "datum.value % 20 === 0 ? datum.label : ''",
                        "tickSize": {"condition": {"test": "datum.value % 20 === 0", "value": 7}, "value": 3},
                        "labelPadding": 7, "titlePadding": 3, "titleFontSize": 24}},
                    "color": {"field": "series", "type": "nominal",
                      "scale": {"domain": ["Regular peak", "As(III)", "Sum peak"], "range": ["#808080", "#2020e0", "#e8202c"]},
                      "legend": null}
                  }
                },
                {
                  "data": {"name": "b"},
                  "transform": [{"filter": "datum.series === 'As(III)'"}],
                  "mark": {"type": "line", "strokeWidth": 2.4, "interpolate": "monotone", "clip": true},
                  "encoding": {
                    "x": {"field": "energy", "type": "quantitative"},
                    "y": {"field": "intensity", "type": "quantitative"},
                    "color": {"field": "series", "type": "nominal", "legend": null}
                  }
                },
                {
                  "data": {"name": "b"},
                  "transform": [{"filter": "datum.series === 'Sum peak'"}],
                  "mark": {"type": "line", "strokeWidth": 2.0, "opacity": 0.7, "interpolate": "monotone", "clip": true},
                  "encoding": {
                    "x": {"field": "energy", "type": "quantitative"},
                    "y": {"field": "intensity", "type": "quantitative"},
                    "color": {"field": "series", "type": "nominal", "legend": null}
                  }
                },
                {
                  "data": {"values": [{"t": "(b) WHIOB-As (III)"}]},
                  "mark": {"type": "text", "align": "left", "baseline": "middle", "fontSize": 23.5, "fontWeight": "bold", "color": "#000000"},
                  "encoding": {"x": {"datum": 46.98}, "y": {"datum": 194.5}, "text": {"field": "t"}}
                },
                {
                  "data": {"values": [{"t": "44.1 eV"}]},
                  "mark": {"type": "text", "align": "center", "baseline": "middle", "fontSize": 19, "fontWeight": "bold", "color": "#000000"},
                  "encoding": {"x": {"datum": 44.23}, "y": {"datum": 189.4}, "text": {"field": "t"}}
                },
                {
                  "data": {"values": [{"t": "arrow"}]},
                  "mark": {"type": "rule", "color": "#b01cb0", "strokeWidth": 1.2},
                  "encoding": {"x": {"datum": 44.31}, "y": {"datum": 187.3}, "y2": {"datum": 182.0}}
                },
                {
                  "data": {"values": [{"t": "arrowhead"}]},
                  "mark": {"type": "point", "shape": "triangle-down", "filled": true, "size": 30, "color": "#b01cb0", "opacity": 1},
                  "encoding": {"x": {"datum": 44.31}, "y": {"datum": 181.5}}
                },
                {
                  "data": {"values": [{"t": "As3d"}]},
                  "mark": {"type": "text", "align": "left", "baseline": "middle", "fontSize": 19, "fontWeight": "bold", "color": "#222222"},
                  "encoding": {"x": {"datum": 46.898}, "y": {"datum": 185.0}, "text": {"field": "t"}}
                },
                {
                  "data": {"values": [{"t": "Regular peak"}]},
                  "mark": {"type": "rule", "color": "#808080", "strokeWidth": 1.4},
                  "encoding": {"x": {"datum": 46.898}, "x2": {"datum": 46.466}, "y": {"datum": 177.6}}
                },
                {
                  "data": {"values": [{"t": "Regular peak"}]},
                  "mark": {"type": "text", "align": "left", "baseline": "middle", "fontSize": 18.5, "color": "#3a3a3a"},
                  "encoding": {"x": {"datum": 46.389}, "y": {"datum": 177.6}, "text": {"field": "t"}}
                },
                {
                  "data": {"values": [{"t": "As(III)"}]},
                  "mark": {"type": "rule", "color": "#2020e0", "strokeWidth": 2.5},
                  "encoding": {"x": {"datum": 46.898}, "x2": {"datum": 46.466}, "y": {"datum": 171.1}}
                },
                {
                  "data": {"values": [{"t": "As(III)"}]},
                  "mark": {"type": "text", "align": "left", "baseline": "middle", "fontSize": 18.5, "color": "#3333cc"},
                  "encoding": {"x": {"datum": 46.389}, "y": {"datum": 171.1}, "text": {"field": "t"}}
                },
                {
                  "data": {"values": [{"t": "Sum peak"}]},
                  "mark": {"type": "rule", "color": "#e8202c", "strokeWidth": 1.4},
                  "encoding": {"x": {"datum": 46.898}, "x2": {"datum": 46.466}, "y": {"datum": 164.7}}
                },
                {
                  "data": {"values": [{"t": "Sum peak"}]},
                  "mark": {"type": "text", "align": "left", "baseline": "middle", "fontSize": 18.5, "color": "#e8303a"},
                  "encoding": {"x": {"datum": 46.389}, "y": {"datum": 164.7}, "text": {"field": "t"}}
                }
              ]
            },
            {
              "data": {"name": "b"},
              "mark": {"type": "point", "opacity": 0, "clip": true},
              "encoding": {
                "x": {"field": "energy", "type": "quantitative",
                  "axis": {"orient": "top", "title": null, "labels": false, "values": [42, 42.5, 43, 43.5, 44, 44.5, 45, 45.5, 46, 46.5, 47], "tickSize": -4}},
                "y": {"field": "intensity", "type": "quantitative",
                  "axis": {"orient": "right", "title": null, "labels": false, "values": [100, 110, 120, 130, 140, 150, 160, 170, 180, 190, 200],
                    "tickSize": {"condition": {"test": "datum.value % 20 === 0", "value": -5}, "value": -3}}}
              }
            }
          ]
        },
        {
          "width": 522,
          "height": 397,
          "resolve": {"axis": {"x": "independent", "y": "independent"}},
          "layer": [
            {
              "layer": [
                {
                  "data": {"name": "d"},
                  "transform": [{"filter": "datum.series === 'Regular peak'"}],
                  "mark": {"type": "line", "strokeWidth": 1.1, "clip": true},
                  "encoding": {
                    "x": {"field": "energy", "type": "quantitative",
                      "scale": {"domain": [42, 48.4], "nice": false, "zero": false},
                      "axis": {"title": "Binding Energy (eV)", "format": ".0f", "values": [42, 42.5, 43, 43.5, 44, 44.5, 45, 45.5, 46, 46.5, 47, 47.5, 48],
                        "labelExpr": "datum.value % 1 === 0 ? datum.label : ''",
                        "tickSize": {"condition": {"test": "datum.value % 1 === 0", "value": 7}, "value": 4},
                        "labelPadding": 6.5, "titlePadding": 4, "titleFontSize": 21}},
                    "y": {"field": "intensity", "type": "quantitative",
                      "scale": {"domain": [600, 620, 640, 680, 700, 720, 740], "range": [397, 341.7, 273.3, 205, 136.6, 68.3, 0], "nice": false, "zero": false},
                      "axis": {"title": null, "format": ".0f", "values": [600, 607.5, 620, 630, 640, 660, 680, 690, 700, 710, 720, 730, 740],
                        "labelExpr": "indexof([600, 620, 640, 680, 700, 720, 740], datum.value) >= 0 ? datum.label : ''",
                        "tickSize": {"condition": {"test": "indexof([600, 620, 640, 680, 700, 720, 740], datum.value) >= 0", "value": 7}, "value": 3},
                        "labelPadding": 7}},
                    "color": {"field": "series", "type": "nominal",
                      "scale": {"domain": ["Regular peak", "As (V)", "Sum peak"], "range": ["#707070", "#2a2ae0", "#e040e0"]},
                      "legend": null}
                  }
                },
                {
                  "data": {"name": "d"},
                  "transform": [{"filter": "datum.series === 'As (V)'"}],
                  "mark": {"type": "line", "strokeWidth": 2.4, "interpolate": "monotone", "clip": true},
                  "encoding": {
                    "x": {"field": "energy", "type": "quantitative"},
                    "y": {"field": "intensity", "type": "quantitative"},
                    "color": {"field": "series", "type": "nominal", "legend": null}
                  }
                },
                {
                  "data": {"name": "d"},
                  "transform": [{"filter": "datum.series === 'Sum peak'"}],
                  "mark": {"type": "line", "strokeWidth": 1.8, "opacity": 0.4, "interpolate": "monotone", "clip": true},
                  "encoding": {
                    "x": {"field": "energy", "type": "quantitative"},
                    "y": {"field": "intensity", "type": "quantitative"},
                    "color": {"field": "series", "type": "nominal", "legend": null}
                  }
                },
                {
                  "data": {"values": [{"t": "(d) WHIOB-As (V)"}]},
                  "mark": {"type": "text", "align": "left", "baseline": "middle", "fontSize": 23.5, "fontWeight": "bold", "color": "#000000"},
                  "encoding": {"x": {"datum": 42.04}, "y": {"datum": 732.9}, "text": {"field": "t"}}
                },
                {
                  "data": {"values": [{"t": "45.2 eV"}]},
                  "mark": {"type": "text", "align": "center", "baseline": "middle", "fontSize": 19.5, "fontWeight": "bold", "color": "#000000"},
                  "encoding": {"x": {"datum": 45.16}, "y": {"datum": 735.3}, "text": {"field": "t"}}
                },
                {
                  "data": {"values": [{"t": "Regular peak"}]},
                  "mark": {"type": "rule", "color": "#707070", "strokeWidth": 1.2},
                  "encoding": {"x": {"datum": 42.064}, "x2": {"datum": 42.658}, "y": {"datum": 726.8}}
                },
                {
                  "data": {"values": [{"t": "Regular peak"}]},
                  "mark": {"type": "text", "align": "left", "baseline": "middle", "fontSize": 18.5, "color": "#3a3a3a"},
                  "encoding": {"x": {"datum": 42.719}, "y": {"datum": 726.8}, "text": {"field": "t"}}
                },
                {
                  "data": {"values": [{"t": "As (V)"}]},
                  "mark": {"type": "rule", "color": "#2a2ae0", "strokeWidth": 2.5},
                  "encoding": {"x": {"datum": 42.064}, "x2": {"datum": 42.658}, "y": {"datum": 719.0}}
                },
                {
                  "data": {"values": [{"t": "As"}]},
                  "mark": {"type": "text", "align": "left", "baseline": "middle", "fontSize": 18.5, "color": "#2a2ae0"},
                  "encoding": {"x": {"datum": 42.719}, "y": {"datum": 719.0}, "text": {"field": "t"}}
                },
                {
                  "data": {"values": [{"t": "(V)"}]},
                  "mark": {"type": "text", "align": "left", "baseline": "middle", "fontSize": 18.5, "color": "#2a2ae0"},
                  "encoding": {"x": {"datum": 43.05}, "y": {"datum": 719.0}, "text": {"field": "t"}}
                },
                {
                  "data": {"values": [{"t": "Sum peak"}]},
                  "mark": {"type": "rule", "color": "#e040e0", "strokeWidth": 1.2},
                  "encoding": {"x": {"datum": 42.064}, "x2": {"datum": 42.658}, "y": {"datum": 711.4}}
                },
                {
                  "data": {"values": [{"t": "Sum peak"}]},
                  "mark": {"type": "text", "align": "left", "baseline": "middle", "fontSize": 18.5, "color": "#e040e0"},
                  "encoding": {"x": {"datum": 42.719}, "y": {"datum": 711.4}, "text": {"field": "t"}}
                }
              ]
            },
            {
              "data": {"name": "d"},
              "mark": {"type": "point", "opacity": 0, "clip": true},
              "encoding": {
                "x": {"field": "energy", "type": "quantitative",
                  "axis": {"orient": "top", "title": null, "labels": false, "ticks": false}},
                "y": {"field": "intensity", "type": "quantitative",
                  "axis": {"orient": "right", "title": null, "labels": false, "ticks": false, "domain": false}}
              }
            }
          ]
        }
      ]
    }
  ],
  "config": {
    "font": "Liberation Sans",
    "view": {"stroke": null},
    "axis": {
      "grid": false,
      "domainColor": "#333333",
      "domainWidth": 1.6,
      "tickColor": "#333333",
      "tickWidth": 1.5,
      "labelFont": "Liberation Sans",
      "labelFontSize": 18,
      "labelFontWeight": "bold",
      "labelColor": "#000000",
      "titleFont": "Liberation Sans",
      "titleFontWeight": "bold",
      "titleColor": "#000000",
      "labelFlush": false,
      "labelOverlap": false,
      "labelBound": false
    },
    "text": {"font": "Liberation Sans"}
  }
}
